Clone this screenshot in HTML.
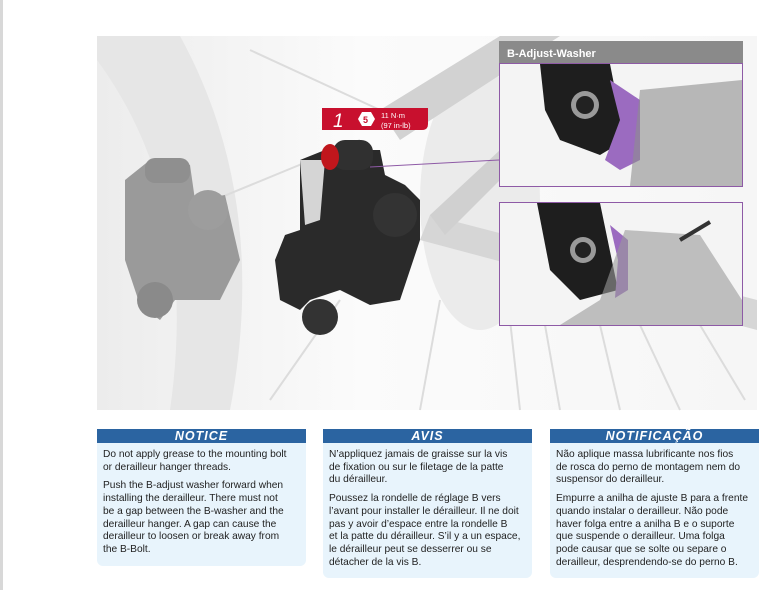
<!DOCTYPE html>
<html><head><meta charset="utf-8"><style>
body{margin:0;width:765px;height:590px;background:#fff;position:relative;overflow:hidden;font-family:"Liberation Sans",sans-serif}
.lb{position:absolute;left:0;top:0;width:3px;height:590px;background:#d8d8d8}
.box{position:absolute;top:429px;width:209px}
.hd{background:#2b64a1;color:#fff;font-weight:bold;font-style:italic;text-align:center;font-size:12.5px;height:14px;line-height:14px;letter-spacing:1px}
.bd{background:#e8f4fc;padding:6px 4px 3px 6px;font-size:10.2px;line-height:12.7px;color:#222;border-radius:0 0 6px 6px;white-space:nowrap}
.bd p{margin:0 0 6px 0}
</style></head><body>
<div class="lb"></div>
<svg width="765" height="420" style="position:absolute;left:0;top:0">
<defs><linearGradient id="bg" x1="0" x2="1"><stop offset="0" stop-color="#ececec"/><stop offset="0.4" stop-color="#fbfbfb"/><stop offset="1" stop-color="#f6f6f6"/></linearGradient></defs>
<rect x="97" y="36" width="660" height="374" fill="url(#bg)"/>
<path d="M97 36 L180 36 Q270 200 230 410 L170 410 Q200 200 97 60Z" fill="#e6e6e6"/>
<g stroke="#dcdcdc" stroke-width="2">
<line x1="250" y1="50" x2="380" y2="110"/><line x1="190" y1="210" x2="360" y2="140"/>
<line x1="270" y1="400" x2="340" y2="300"/><line x1="420" y1="410" x2="440" y2="300"/>
<line x1="520" y1="410" x2="510" y2="320"/><line x1="560" y1="410" x2="545" y2="325"/>
<line x1="620" y1="410" x2="600" y2="325"/><line x1="680" y1="410" x2="640" y2="325"/>
<line x1="745" y1="400" x2="700" y2="325"/>
</g>
<ellipse cx="480" cy="200" rx="60" ry="130" fill="#ebebeb"/>
<path d="M380 110 L500 36 L560 36 L400 140Z" fill="#d2d2d2"/>
<path d="M420 240 L757 330 L757 300 L430 215Z" fill="#d6d6d6"/>
<path d="M430 215 L500 150 L520 160 L445 235Z" fill="#d0d0d0"/>
<path d="M125 180 L150 160 L190 165 L195 200 L225 195 L240 260 L220 300 L175 300 L160 320 L140 305 L125 260Z" fill="#9a9a9a"/>
<rect x="145" y="158" width="45" height="25" rx="10" fill="#8f8f8f"/>
<circle cx="155" cy="300" r="18" fill="#8a8a8a"/>
<circle cx="208" cy="210" r="20" fill="#9d9d9d"/>
<path d="M300 160 L325 150 L380 150 L385 175 L405 185 L420 200 L420 240 L400 300 L370 305 L340 290 L310 300 L300 310 L280 300 L275 260 L285 235 L300 230Z" fill="#2a2a2a"/>
<path d="M300 160 L325 160 L320 220 L305 225Z" fill="#d5d5d5"/>
<rect x="333" y="140" width="40" height="30" rx="12" fill="#303030"/>
<ellipse cx="330" cy="157" rx="9" ry="13" fill="#c0161c"/>
<circle cx="320" cy="317" r="18" fill="#333"/>
<circle cx="395" cy="215" r="22" fill="#333"/>
<line x1="370" y1="167" x2="499" y2="160" stroke="#8e5aa6" stroke-width="1"/>
<path d="M322 108 L428 108 L428 124 Q428 130 422 130 L322 130Z" fill="#c8102e"/>
<text x="333" y="127" font-size="19" font-style="italic" fill="#fff" font-family="Liberation Sans">1</text>
<polygon points="358,119 362,112 371,112 375,119 371,126 362,126" fill="#fff"/>
<text x="363" y="123" font-size="9" fill="#c8102e" font-weight="bold">5</text>
<text x="381" y="118" font-size="7.5" fill="#fff">11 N·m</text>
<text x="381" y="128" font-size="7.5" fill="#fff">(97 in-lb)</text>
<rect x="499" y="41" width="244" height="22" fill="#8a8a8a"/>
<text x="507" y="57" font-size="11" font-weight="bold" fill="#fff">B-Adjust-Washer</text>
<rect x="499.5" y="63.5" width="243" height="123" fill="#f4f4f4" stroke="#8e5aa6"/>
<path d="M540 64 L610 64 L625 140 L600 155 L560 140 L545 110Z" fill="#1e1e1e"/>
<path d="M610 80 L640 100 L640 160 L620 170 L605 160 L620 120Z" fill="#9b6bc0"/>
<circle cx="585" cy="105" r="14" fill="#9a9a9a"/><circle cx="585" cy="105" r="9" fill="#222"/>
<path d="M640 90 L742 80 L742 186 L630 186Z" fill="#8d8d8d" opacity="0.6"/>
<rect x="499.5" y="202.5" width="243" height="123" fill="#f4f4f4" stroke="#8e5aa6"/>
<path d="M537 203 L600 203 L618 290 L580 300 L550 270Z" fill="#1e1e1e"/>
<path d="M610 225 L628 240 L628 290 L615 298 L618 260Z" fill="#9b6bc0"/>
<circle cx="583" cy="250" r="13" fill="#9a9a9a"/><circle cx="583" cy="250" r="8" fill="#222"/>
<path d="M625 230 L700 235 L742 300 L742 325 L560 325 L600 300Z" fill="#9a9a9a" opacity="0.6"/>
<line x1="680" y1="240" x2="710" y2="222" stroke="#333" stroke-width="4"/>
</svg>
<div class="box" style="left:97px"><div class="hd">NOTICE</div><div class="bd"><p>Do not apply grease to the mounting bolt<br>or derailleur hanger threads.</p><p>Push the B-adjust washer forward when<br>installing the derailleur. There must not<br>be a gap between the B-washer and the<br>derailleur hanger. A gap can cause the<br>derailleur to loosen or break away from<br>the B-Bolt.</p></div></div>
<div class="box" style="left:323px"><div class="hd">AVIS</div><div class="bd"><p>N’appliquez jamais de graisse sur la vis<br>de fixation ou sur le filetage de la patte<br>du dérailleur.</p><p>Poussez la rondelle de réglage B vers<br>l’avant pour installer le dérailleur. Il ne doit<br>pas y avoir d’espace entre la rondelle B<br>et la patte du dérailleur. S’il y a un espace,<br>le dérailleur peut se desserrer ou se<br>détacher de la vis B.</p></div></div>
<div class="box" style="left:550px"><div class="hd">NOTIFICAÇÃO</div><div class="bd"><p>Não aplique massa lubrificante nos fios<br>de rosca do perno de montagem nem do<br>suspensor do derailleur.</p><p>Empurre a anilha de ajuste B para a frente<br>quando instalar o derailleur. Não pode<br>haver folga entre a anilha B e o suporte<br>que suspende o derailleur. Uma folga<br>pode causar que se solte ou separe o<br>derailleur, desprendendo-se do perno B.</p></div></div>
</body></html>
